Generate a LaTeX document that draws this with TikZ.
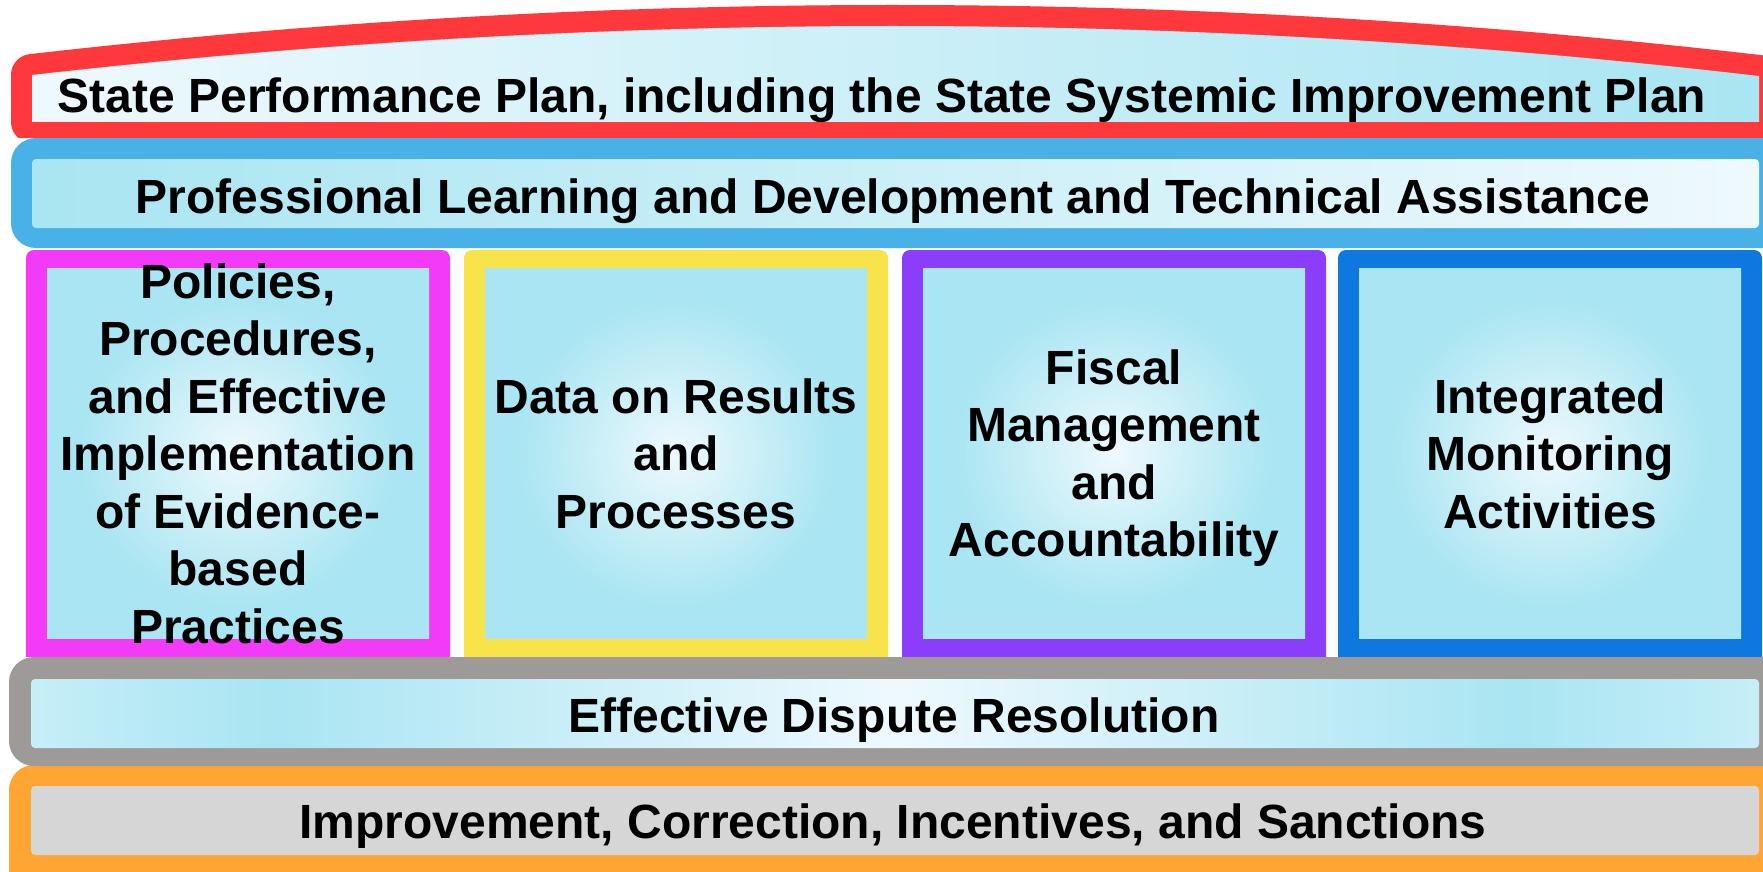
\documentclass[tikz,border=0pt]{standalone}
\usepackage{fontspec}
\setmainfont{Liberation Sans}
\definecolor{cRed}{HTML}{FF383C}
\definecolor{cBand}{HTML}{48B1E8}
\definecolor{cMag}{HTML}{F23AF8}
\definecolor{cYel}{HTML}{F7E44A}
\definecolor{cPur}{HTML}{8B3DFC}
\definecolor{cBlu}{HTML}{0F78E0}
\definecolor{cGray}{HTML}{9E9A97}
\definecolor{cOra}{HTML}{FFA534}
\definecolor{cIn}{HTML}{D6D6D6}
\definecolor{cyanD}{HTML}{A9E5F2}
\definecolor{cyanM}{HTML}{C6EEF7}
\definecolor{cyanL}{HTML}{EEF9FD}
\pgfdeclareradialshading{colshade}{\pgfpoint{0bp}{0bp}}{color(0bp)=(cyanL); color(21bp)=(cyanD); color(50bp)=(cyanD)}
\pgfdeclarehorizontalshading{grayshade}{100bp}{color(0bp)=(cyanM); color(25bp)=(cyanM); color(32bp)=(cyanD); color(50bp)=(cyanL); color(68bp)=(cyanD); color(75bp)=(cyanM); color(100bp)=(cyanM)}
\tikzset{
  lbl/.style={font=\bfseries\fontsize{48}{57.5}\selectfont, align=center, inner sep=0pt, text=black},
  band/.style={rounded corners=25pt},
  colframe/.style={rounded corners=8pt},
  inbox/.style={rounded corners=4pt},
}
\begin{document}
\begin{tikzpicture}[x=1pt,y=-1pt]
\clip (0,0) rectangle (1763,872);
\fill[white] (0,0) rectangle (1763,872);
% top red banner
\begin{scope}
\clip (0,0) rectangle (1763,137.5);
\draw[cRed, fill=cRed, line width=42pt, line join=round]
  (32,122) -- (32,75) .. controls (607,9.5) and (1184,9.5) .. (1759,76) -- (1759,122) -- cycle;
\end{scope}
\shade[left color=cyanL, right color=cyanD]
  (32,122) -- (32,75) .. controls (607,9.5) and (1184,9.5) .. (1759,76) -- (1759,122) -- cycle;
% blue band
\fill[cBand, band] (11,138) rectangle (1800,248);
\shade[inbox, left color=cyanD, right color=cyanL] (32,159) rectangle (1759,228);
% columns
\fill[cMag, colframe] (26,250) rectangle (450,680);
\fill[cYel, colframe] (464,250) rectangle (888,680);
\fill[cPur, colframe] (902,250) rectangle (1326,680);
\fill[cBlu, colframe] (1338,250) rectangle (1762,680);
\shade[shading=colshade] (47,268) rectangle (429,638);
\shade[shading=colshade] (485,268) rectangle (867,638);
\shade[shading=colshade] (923,268) rectangle (1305,638);
\shade[shading=colshade] (1359,268) rectangle (1741,638);
% orange and gray bands
\fill[cOra, band] (9,765) rectangle (1800,900);
\fill[cIn, inbox] (31,786) rectangle (1759,855);
\fill[white] (0,657) rectangle (1763,700);
\fill[cGray, band] (9,657) rectangle (1800,766);
\shade[inbox, shading=grayshade] (31,679) rectangle (1759,748);
% texts
\node[lbl, anchor=base] (t1) at (882,113) {State Performance Plan, including the State Systemic Improvement Plan};
\node[lbl, anchor=base] (t2) at (893,213) {Professional Learning and Development and Technical Assistance};
\node[lbl, anchor=base] (t3) at (894,732) {Effective Dispute Resolution};
\node[lbl, anchor=base] (t4) at (893,838) {Improvement, Correction, Incentives, and Sanctions};
\node[lbl] (c1) at (238,459) {\strut Policies,\\Procedures,\\and Effective\\Implementation\\of Evidence-\\based\\Practices\strut};
\node[lbl] (c2) at (676,459) {\strut Data on Results\\and\\Processes\strut};
\node[lbl] (c3) at (1114,459) {\strut Fiscal\\Management\\and\\Accountability\strut};
\node[lbl] (c4) at (1550,459) {\strut Integrated\\Monitoring\\Activities\strut};
\end{tikzpicture}
\end{document}
